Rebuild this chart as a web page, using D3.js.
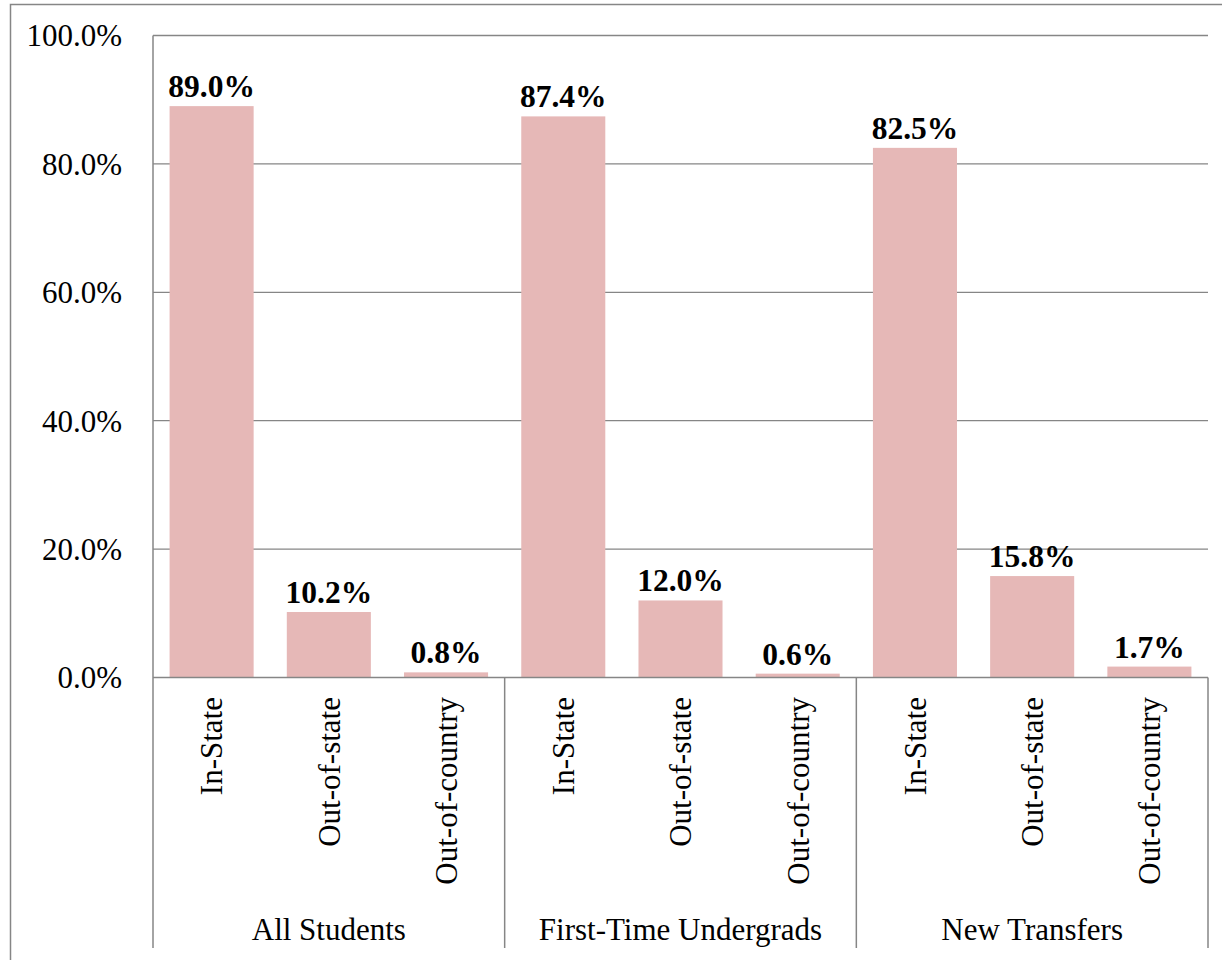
<!DOCTYPE html>
<html><head><meta charset="utf-8">
<script src="https://cdn.jsdelivr.net/npm/d3@7"></script>
<style>body{margin:0;background:#fff}svg{display:block}text{font-family:"Liberation Serif","Times New Roman",serif}</style>
</head><body>
<script>
const groups = ["All Students", "First-Time Undergrads", "New Transfers"];
const categories = ["In-State", "Out-of-state", "Out-of-country"];
const allStudents = [89.0, 10.2, 0.8];
const firstTime = [87.4, 12.0, 0.6];
const newTransfers = [82.5, 15.8, 1.7];
const yTicks = [0, 20, 40, 60, 80, 100];

const seriesByGroup = [allStudents, firstTime, newTransfers];
const data = [];
groups.forEach((g, gi) => categories.forEach((c, ci) => data.push({g, c, key: g + "|" + c, v: seriesByGroup[gi][ci]})));

const W = 1222, H = 960;
const L = 153, R = 1208, T = 35.5, B = 677.5, SEP_B = 948;
const svg = d3.select("body").append("svg").attr("width", W).attr("height", H);

// outer border
svg.append("rect").attr("x", 10.5).attr("y", 4.5).attr("width", W).attr("height", H)
  .attr("fill", "none").attr("stroke", "#868686").attr("stroke-width", 1.5);

const x = d3.scaleBand().domain(data.map(d => d.key)).range([L, R]).paddingInner(0.283).paddingOuter(0.1415);
const xg = d3.scaleBand().domain(groups).range([L, R]);
const y = d3.scaleLinear().domain([0, 100]).range([B, T]);

// gridlines
svg.append("g").selectAll("line").data(yTicks.filter(t => t > 0)).join("line")
  .attr("x1", L).attr("x2", R).attr("y1", d => y(d)).attr("y2", d => y(d))
  .attr("stroke", "#868686").attr("stroke-width", 1.3);

// y labels
svg.append("g").selectAll("text").data(yTicks).join("text")
  .attr("x", 122).attr("y", d => y(d)).attr("dy", "0.35em").attr("text-anchor", "end")
  .attr("font-size", 31).attr("fill", "#000").text(d => d.toFixed(1) + "%");

// bars
svg.append("g").selectAll("rect").data(data).join("rect")
  .attr("x", d => x(d.key)).attr("width", x.bandwidth())
  .attr("y", d => y(d.v)).attr("height", d => y(0) - y(d.v))
  .attr("fill", "#E6B8B7");

// value labels
svg.append("g").selectAll("text").data(data).join("text")
  .attr("x", d => x(d.key) + x.bandwidth() / 2).attr("y", d => y(d.v) - 9)
  .attr("text-anchor", "middle").attr("font-size", 31.5).attr("font-weight", "bold")
  .text(d => d.v.toFixed(1) + "%");

// axes lines
svg.append("line").attr("x1", L).attr("x2", L).attr("y1", T).attr("y2", SEP_B).attr("stroke", "#868686").attr("stroke-width", 1.5);
svg.append("line").attr("x1", L).attr("x2", R).attr("y1", B).attr("y2", B).attr("stroke", "#868686").attr("stroke-width", 1.5);
svg.append("g").selectAll("line").data(groups).join("line")
  .attr("x1", d => xg(d) + xg.bandwidth()).attr("x2", d => xg(d) + xg.bandwidth())
  .attr("y1", B).attr("y2", SEP_B).attr("stroke", "#868686").attr("stroke-width", 1.5);

// category labels
svg.append("g").selectAll("text").data(data).join("text")
  .attr("transform", d => `translate(${x(d.key) + x.bandwidth() / 2},697) rotate(-90)`)
  .attr("dy", "0.35em").attr("text-anchor", "end").attr("font-size", 31).text(d => d.c);

// group labels
svg.append("g").selectAll("text").data(groups).join("text")
  .attr("x", d => xg(d) + xg.bandwidth() / 2).attr("y", 940).attr("text-anchor", "middle")
  .attr("font-size", 31).text(d => d);
</script>
</body></html>
